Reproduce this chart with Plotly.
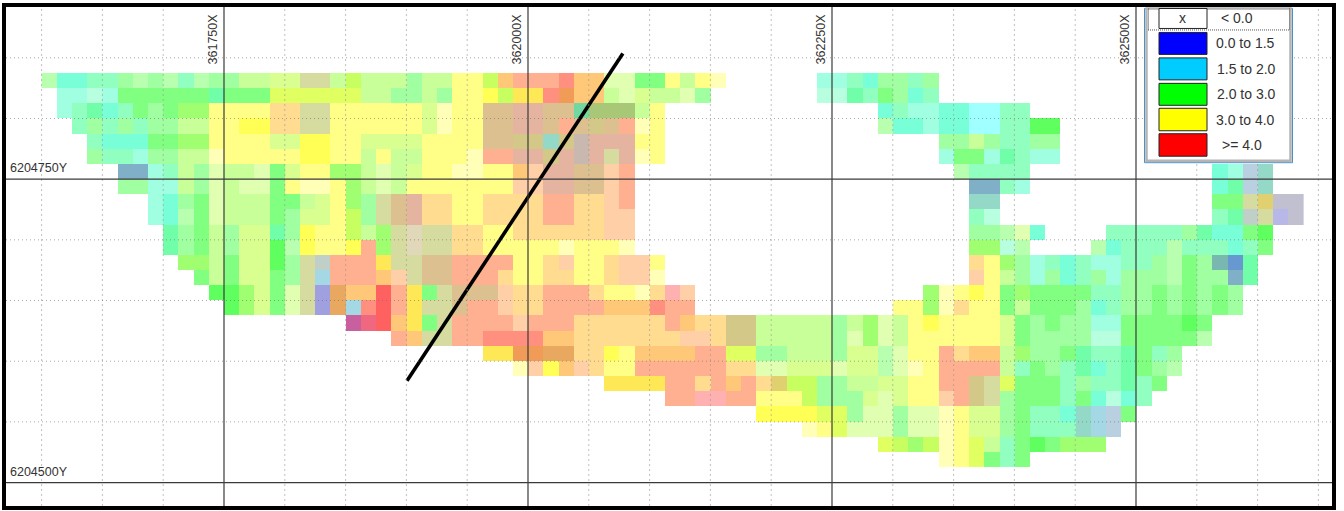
import plotly.graph_objects as go

# ---- data ----
EAST_MAJOR = [361750, 362000, 362250, 362500]
NORTH_MAJOR = [6204750, 6204500]
EAST_MINOR = [e for e in range(361600, 362700, 50) if e not in EAST_MAJOR]
NORTH_MINOR = [n for n in range(6204450, 6204950, 50) if n not in NORTH_MAJOR]
EAST_FIRST_BLOCK = 361600.0
NORTH_TOP_BLOCK = 6204837.5
BLOCK_SIZE = 12.5
SECTION_EAST = [362078, 361900.5]
SECTION_NORTH = [6204853.6, 6204583.9]

LEGEND_LABELS = ["< 0.0", "0.0 to 1.5", "1.5 to 2.0", "2.0 to 3.0", "3.0 to 4.0", ">= 4.0"]
LEGEND_COLOURS = [None, "#0000ff", "#00ccff", "#00ff00", "#ffff00", "#ff0000"]

CLASS_COLOURS = {
    "a": "#a0ffe0", "A": "#78ffd8", "i": "#b8ffe0", "C": "#a0ffff", "m": "#90ffc0", "M": "#70ffa8",
    "g": "#a0ffa0", "j": "#b8ffb0", "G": "#80ff80", "H": "#60ff60", "l": "#c8ff98", "z": "#a0ff70",
    "L": "#c8ff60", "e": "#e0ff60", "f": "#d8ff90", "h": "#e0ffb0", "y": "#ffff88", "Y": "#ffff55",
    "p": "#ffffb8", "W": "#ffe855", "o": "#ffdc90", "O": "#ffc878", "P": "#ffd0a8", "s": "#ffb090",
    "r": "#ffb0b0", "S": "#ff9080", "R": "#ff6060", "D": "#f09c58", "T": "#e8a860", "t": "#dcc090",
    "u": "#e4b4a0", "v": "#d6dca0", "V": "#d4c888", "E": "#e0d070", "n": "#94d8c8", "b": "#80b0c8",
    "c": "#a4d8e4", "w": "#b8d0e0", "q": "#c0c0d0", "Q": "#c8b8b0", "d": "#a0a0e0", "k": "#c860a0",
    "B": "#6898d0", "N": "#78b8b0", "I": "#b8b8e8", "x": "#a8c878", "X": "#70d8a0", "K": "#c0d0c8",
    "U": "#e0d8b8", "J": "#f06880",
}

# one string per block row (north to south), ten columns per group, "_" = ten empty blocks
BLOCK_ROWS = [
    "jAAmmgjgjm jggllffvvl LlllgllyyL OsssSOOhhG Gylyp..... .aamAggmg.",
    ".aaiaGGGGG GMGGGeeeee ellgglgyyY LWWSDOOlhf llhg...... .iiMmGgAm.",
    ".amMAmGgGz zyyyyoovvy yyyyyfpyyt tuuttXxxxl y......... .....AmaaA ACCmm.....",
    "..mgmgmggl lyyYYoovvy yyyyyfpyyt tuutstVtsp y......... .....jAAaA ACCmmHH...",
    "...mAAAGGz zyyyyffYYy yffffyyyyt tVVnVQuuuy y......... .........g glgmmgg...",
    "...gmmaggl lpyyyyyYYy ylyllyyyps suuVuQuvup y......... .........a GGaMmaa...",
    ".....bbaml ghllhGfyyz zlhlfyyppy yOPuuttPs. _ _ jmmmm..... .......Aaw n..",
    ".....ggaal ghlhhGyppy zlhlyyyyyy yPPuuttPs. _ _ .bbma..... .......AMw n..",
    ".......aAg GhlllGGlfy zgvtuooyyo ooossooPs. _ _ .nn....... .......GGv Eqq",
    ".......aAj GhlllGgffy Lgvtuooyyo ooossooPP. _ _ .mi....... .......mMK vIq",
    "........Mg GlgffMgYyy LlzvUvvooy yooooooPP. _ _ .ggjhA.... mmmmmgMAAG H..",
    "........Mg GlgffHjYyy YszvUvvooy yyyypyyyp. _ _ .zzij....j AmmmjmmmAm G..",
    ".........z zlGffHgvKs ssWvvttsss syyoPyyoPP y......... _ .oyzgamAma ammgjGgNBM",
    "_ GlGffGgvcs ssOPvttsss oyyooyyoPP p......... _ .PylgagAmg agggjGggbM",
    "_ .HHzfGhvdT OORsWGvttt Poosssoyyp orP....... ........zp yYyGzGGGGm mggGgGgGg.",
    "_ ..HzfGhvdT cSRsWvvtss PoossssOOO Sss....... ......yyzp oyyGlGGGgA mggGgGgGg.",
    "_ _ kJROWGvsss sPsssooooo osOooVVlll llglzhlyYy yyyfGgGgga aGGGGHG...",
    "_ _ ...sOvvssS SSSOOooooo ooPPoVVlll llghzhlyyy yyyfGggggi iGGGGGj...",
    "_ _ .........W WDDTTooYyO OOOsseeggl llgffjhyys oOOlzggGMm mMGmg.....",
    "_ _ _ .pPYOPoyys sssssoohhf ffhffjhpys ssslmGgmMA mMGgj.....",
    "_ _ _ .......WWW WssosOsoEL Lggllffyys sVveGGGmgm mMmG......",
    "_ _ _ _ .ssrrssyyy LgggfhfyyP sVvgGGGmGA iAm.......",
    "_ _ _ _ .......YYY Yeeghhghhp yffgGmmAnc wG........",
    "_ _ _ _ _ pyehhhghhp yffgGmmmnc w.........",
    "_ _ _ _ _ .....eLzLp yelmGHGzzz",
    "_ _ _ _ _ .........p yeGmG.....",
]

# ---- build ----
WIDTH, HEIGHT = 1344, 511
FRAME_L, FRAME_R, FRAME_T, FRAME_B = 6, 1332, 6.5, 506.5
M_PER_PX = 250 / 304
PX_E0, PX_N0 = 224, 179  # pixel of 361750 E and 6204750 N


def px(x):
    return (x - FRAME_L) / (FRAME_R - FRAME_L)


def py(y):
    return 1 - (y - FRAME_T) / (FRAME_B - FRAME_T)


codes = list(CLASS_COLOURS)
n_codes = len(codes)
colorscale = []
for i, code in enumerate(codes):
    colorscale += [[i / n_codes, CLASS_COLOURS[code]], [(i + 1) / n_codes, CLASS_COLOURS[code]]]

n_cols = 83
z = []
for row in BLOCK_ROWS:
    groups = row.split()
    for g in groups[:8]:
        assert len(g) == 10 or g == "_", (row, g)
    text = "".join("." * 10 if g == "_" else g for g in groups).ljust(n_cols, ".")
    assert len(text) == n_cols, (row, len(text))
    z.append([None if c == "." else codes.index(c) + 0.5 for c in text])

xs = [EAST_FIRST_BLOCK + (k + 0.5) * BLOCK_SIZE for k in range(n_cols)]
ys = [NORTH_TOP_BLOCK - (k + 0.5) * BLOCK_SIZE for k in range(len(BLOCK_ROWS))]

fig = go.Figure()
fig.add_trace(go.Heatmap(x=xs, y=ys, z=z, colorscale=colorscale, zmin=0, zmax=n_codes,
                         showscale=False, hoverinfo="skip", xgap=0, ygap=0))
fig.add_trace(go.Scatter(x=SECTION_EAST, y=SECTION_NORTH, mode="lines", hoverinfo="skip",
                         line=dict(color="#000000", width=3.6), showlegend=False))

shapes = []
for e in EAST_MINOR:
    shapes.append(dict(type="line", xref="x", yref="paper", x0=e, x1=e, y0=0, y1=1,
                       line=dict(color="rgba(150,150,150,0.6)", width=1, dash="2px,3px")))
for n in NORTH_MINOR:
    shapes.append(dict(type="line", xref="paper", yref="y", x0=0, x1=1, y0=n, y1=n,
                       line=dict(color="rgba(110,110,110,0.6)", width=1, dash="1px,3px")))
for e in EAST_MAJOR:
    shapes.append(dict(type="line", xref="x", yref="paper", x0=e, x1=e, y0=0, y1=1,
                       line=dict(color="#3a3a3a", width=1.2)))
for n in NORTH_MAJOR:
    shapes.append(dict(type="line", xref="paper", yref="y", x0=0, x1=1, y0=n, y1=n,
                       line=dict(color="#3a3a3a", width=1.2)))


def box(x0, y0, x1, y1, fill, line, width):
    shapes.append(dict(type="rect", xref="paper", yref="paper", x0=px(x0), x1=px(x1), y0=py(y0), y1=py(y1),
                       fillcolor=fill, line=dict(color=line, width=width)))


# legend panel
box(1144.5, 8, 1292.5, 162.5, "#ffffff", "#4a90c8", 1)
box(1146.5, 8, 1290.5, 160.5, "#ffffff", "#b4b4b4", 2.5)
shapes.append(dict(type="line", xref="paper", yref="paper", x0=px(1148), x1=px(1290), y0=py(29.5), y1=py(29.5),
                   line=dict(color="#555555", width=1, dash="1px,1px")))
for px_x in (1148.5, 1289.5):
    shapes.append(dict(type="line", xref="paper", yref="paper", x0=px(px_x), x1=px(px_x), y0=py(8), y1=py(29.5),
                       line=dict(color="#555555", width=1, dash="1px,1px")))

SWATCH_TOPS = [8, 32, 57.5, 83, 108, 133.5]
SWATCH_BOTS = [28, 54, 79.5, 105, 130.5, 156]
annotations = []
for top, bot, colour, label, cx in zip(SWATCH_TOPS, SWATCH_BOTS, LEGEND_COLOURS, LEGEND_LABELS,
                                       [1237, 1245, 1246, 1246, 1245, 1242]):
    box(1159, top, 1207, bot, colour or "#ffffff", "#222222", 1)
    annotations.append(dict(xref="paper", yref="paper", x=px(cx), y=py((top + bot) / 2), text=label,
                            xanchor="center", yanchor="middle", showarrow=False,
                            font=dict(family="Liberation Sans", size=14, color="#333333")))
annotations.append(dict(xref="paper", yref="paper", x=px(1182.5), y=py(18), text="x", showarrow=False,
                        xanchor="center", yanchor="middle",
                        font=dict(family="Liberation Sans", size=14, color="#333333")))

label_font = dict(family="Liberation Sans", size=12.5, color="#333333")
for e in EAST_MAJOR:
    annotations.append(dict(xref="x", yref="paper", x=e, xshift=-11, y=py(39), text=f"{e}X", textangle=-90,
                            xanchor="center", yanchor="middle", showarrow=False, font=label_font))
for n in NORTH_MAJOR:
    annotations.append(dict(xref="paper", yref="y", x=px(8), xanchor="left", yanchor="middle", y=n, yshift=11,
                            text=f"{n}Y", showarrow=False, font=label_font))

axis_common = dict(showgrid=False, zeroline=False, showticklabels=False, ticks="", showline=True, mirror=True,
                   linecolor="#000000", linewidth=3.5, fixedrange=True)
fig.update_layout(
    width=WIDTH, height=HEIGHT, autosize=False,
    margin=dict(l=FRAME_L, r=WIDTH - FRAME_R, t=FRAME_T, b=HEIGHT - FRAME_B, pad=0),
    paper_bgcolor="#ffffff", plot_bgcolor="#ffffff", showlegend=False,
    xaxis=dict(range=[361750 + (FRAME_L - PX_E0) * M_PER_PX, 361750 + (FRAME_R - PX_E0) * M_PER_PX], **axis_common),
    yaxis=dict(range=[6204750 - (FRAME_B - PX_N0) * M_PER_PX, 6204750 - (FRAME_T - PX_N0) * M_PER_PX], **axis_common),
    shapes=shapes, annotations=annotations,
)
fig.write_html("out.html", post_script="document.body.style.margin='0';document.body.style.overflow='hidden';",
               config={"displayModeBar": False})
